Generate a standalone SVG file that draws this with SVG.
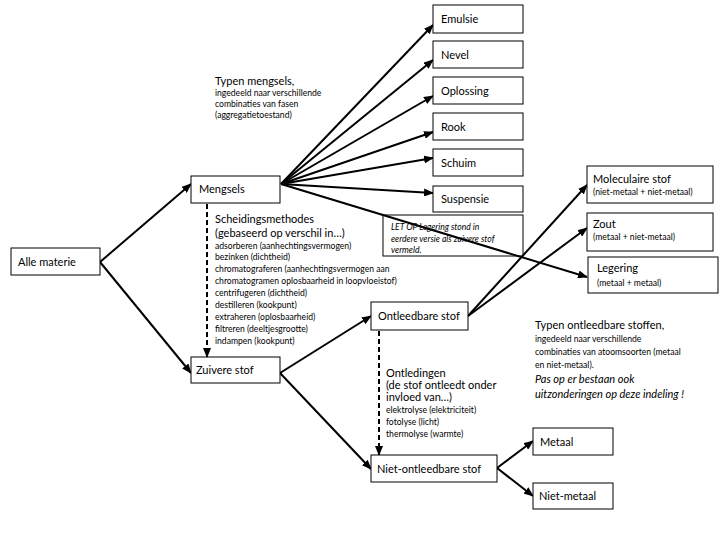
<svg xmlns="http://www.w3.org/2000/svg" width="720" height="540" viewBox="0 0 720 540">
<style>
text{font-family:Lato,"Liberation Sans",sans-serif;fill:#000}
.b{font-size:11px}
.s{font-size:8.6px}
.i{font-style:italic}
rect{fill:#fff;stroke:#000;stroke-width:1}
.c{stroke:#000;stroke-width:2;fill:none}
.d{stroke:#000;stroke-width:2;fill:none;stroke-dasharray:5,3}
</style>
<defs>
<marker id="a" markerUnits="userSpaceOnUse" markerWidth="10" markerHeight="8" refX="9" refY="4" orient="auto">
<path d="M0,0 L10,4 L0,8 z" fill="#000"/>
</marker>
</defs>
<rect width="720" height="540" style="fill:#fff;stroke:none"/>
<g id="letop">
<rect x="383" y="215" width="140" height="41" style="fill:#fff"/>
<text class="s i" x="391" y="230">LET OP Legering stond in</text>
<text class="s i" x="391" y="242">eerdere versie als zuivere stof</text>
<text class="s i" x="391" y="253">vermeld.</text>
</g>
<g id="connectors">
<line class="c" x1="281" y1="184" x2="433" y2="25" marker-end="url(#a)"/>
<line class="c" x1="281" y1="184" x2="433" y2="60" marker-end="url(#a)"/>
<line class="c" x1="281" y1="184" x2="433" y2="96" marker-end="url(#a)"/>
<line class="c" x1="281" y1="184" x2="433" y2="132" marker-end="url(#a)"/>
<line class="c" x1="281" y1="184" x2="433" y2="158" marker-end="url(#a)"/>
<line class="c" x1="281" y1="184" x2="433" y2="193" marker-end="url(#a)"/>
<line class="c" x1="281" y1="184" x2="587" y2="277" marker-end="url(#a)"/>
<line class="c" x1="100" y1="262" x2="191" y2="184" marker-end="url(#a)"/>
<line class="c" x1="100" y1="262" x2="191" y2="373" marker-end="url(#a)"/>
<line class="c" x1="280" y1="373" x2="371" y2="316" marker-end="url(#a)"/>
<line class="c" x1="280" y1="373" x2="371" y2="469" marker-end="url(#a)"/>
<line class="c" x1="468" y1="316" x2="587" y2="185" marker-end="url(#a)"/>
<line class="c" x1="468" y1="316" x2="587" y2="228" marker-end="url(#a)"/>
<line class="c" x1="497" y1="468" x2="533" y2="441" marker-end="url(#a)"/>
<line class="c" x1="497" y1="468" x2="533" y2="496" marker-end="url(#a)"/>
<line class="d" x1="207" y1="204" x2="207" y2="357" marker-end="url(#a)"/>
<line class="d" x1="379" y1="331" x2="379" y2="455" marker-end="url(#a)"/>
</g>
<g id="emulsie"><rect x="433" y="5" width="90" height="28"/><text class="b" x="441" y="23">Emulsie</text></g>
<g id="nevel"><rect x="433" y="41" width="90" height="27"/><text class="b" x="441" y="59">Nevel</text></g>
<g id="oplossing"><rect x="433" y="77" width="90" height="27"/><text class="b" x="441" y="95">Oplossing</text></g>
<g id="rook"><rect x="433" y="113" width="90" height="27"/><text class="b" x="441" y="131">Rook</text></g>
<g id="schuim"><rect x="433" y="149" width="90" height="27"/><text class="b" x="441" y="167">Schuim</text></g>
<g id="suspensie"><rect x="433" y="186" width="90" height="26"/><text class="b" x="441" y="203">Suspensie</text></g>
<g id="mengsels"><rect x="191" y="176" width="89" height="27"/><text class="b" x="199" y="193">Mengsels</text></g>
<g id="allematerie"><rect x="11" y="248" width="89" height="27"/><text class="b" x="18" y="266">Alle materie</text></g>
<g id="zuiverestof"><rect x="191" y="357" width="89" height="26"/><text class="b" x="196" y="374">Zuivere stof</text></g>
<g id="ontleedbarestof"><rect x="371" y="302" width="97" height="28"/><text class="b" x="378" y="320">Ontleedbare stof</text></g>
<g id="nietontleedbarestof"><rect x="371" y="455" width="126" height="27"/><text class="b" x="377" y="473">Niet-ontleedbare stof</text></g>
<g id="metaal"><rect x="533" y="428" width="80" height="27"/><text class="b" x="540" y="446">Metaal</text></g>
<g id="nietmetaal"><rect x="533" y="483" width="80" height="26"/><text class="b" x="539" y="500">Niet-metaal</text></g>
<g id="moleculairestof"><rect x="587" y="166" width="126" height="37"/><text class="b" x="593" y="183">Moleculaire stof</text><text class="s" x="593" y="195">(niet-metaal + niet-metaal)</text></g>
<g id="zout"><rect x="587" y="213" width="126" height="38"/><text class="b" x="593" y="228">Zout</text><text class="s" x="593" y="240">(metaal + niet-metaal)</text></g>
<g id="legering"><rect x="588" y="257" width="130" height="36"/><text class="b" x="597" y="272">Legering</text><text class="s" x="597" y="286">(metaal + metaal)</text></g>
<g id="typenmengsels">
<text class="b" x="215" y="85">Typen mengsels,</text>
<text class="s" x="215" y="96">ingedeeld naar verschillende</text>
<text class="s" x="215" y="107">combinaties van fasen</text>
<text class="s" x="215" y="118">(aggregatietoestand)</text>
</g>
<g id="scheiding">
<text class="b" x="215" y="223">Scheidingsmethodes</text>
<text class="b" x="215" y="237">(gebaseerd op verschil in…)</text>
<text class="s" x="215" y="249">adsorberen (aanhechtingsvermogen)</text>
<text class="s" x="215" y="260">bezinken (dichtheid)</text>
<text class="s" x="215" y="272">chromatograferen (aanhechtingsvermogen aan</text>
<text class="s" x="215" y="284">chromatogramen oplosbaarheid in loopvloeistof)</text>
<text class="s" x="215" y="296">centrifugeren (dichtheid)</text>
<text class="s" x="215" y="308">destilleren (kookpunt)</text>
<text class="s" x="215" y="320">extraheren (oplosbaarheid)</text>
<text class="s" x="215" y="332">filtreren (deeltjesgrootte)</text>
<text class="s" x="215" y="344">indampen (kookpunt)</text>
</g>
<g id="ontledingen">
<text class="b" x="386" y="377">Ontledingen</text>
<text class="b" x="386" y="389">(de stof ontleedt onder</text>
<text class="b" x="386" y="401">invloed van…)</text>
<text class="s" x="386" y="413">elektrolyse (elektriciteit)</text>
<text class="s" x="386" y="425">fotolyse (licht)</text>
<text class="s" x="386" y="437">thermolyse (warmte)</text>
</g>
<g id="typenontleedbare">
<text class="b" x="535" y="329">Typen ontleedbare stoffen,</text>
<text class="s" x="535" y="342">ingedeeld naar verschillende</text>
<text class="s" x="535" y="355">combinaties van atoomsoorten (metaal</text>
<text class="s" x="535" y="368">en niet-metaal).</text>
<text class="b i" x="535" y="383">Pas op er bestaan ook</text>
<text class="b i" x="535" y="398">uitzonderingen op deze indeling !</text>
</g>
</svg>
